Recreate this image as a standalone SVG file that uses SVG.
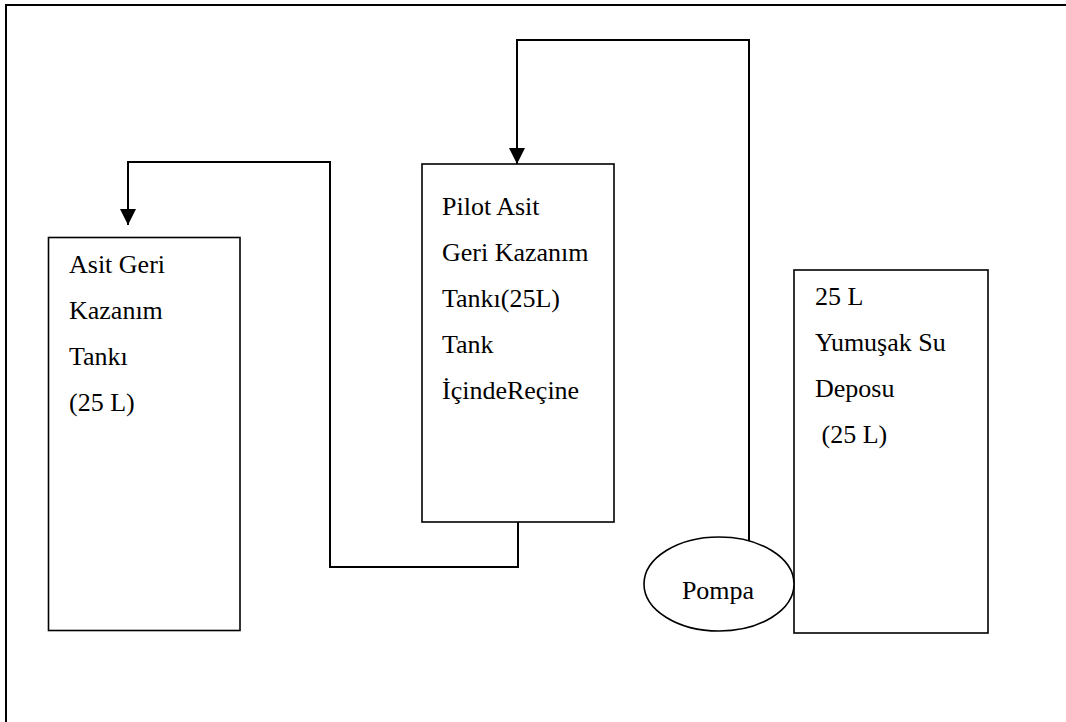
<svg xmlns="http://www.w3.org/2000/svg" width="1066" height="722" viewBox="0 0 1066 722">
  <defs>
    <style>
      .frame { fill: none; stroke: #000; stroke-width: 2; }
      .box { fill: #fff; stroke: #000; stroke-width: 1.6; }
      .pipe { fill: none; stroke: #000; stroke-width: 2; }
      .lbl { font-family: "Liberation Serif", "Times New Roman", serif; font-size: 26px; fill: #000; }
    </style>
    <marker id="arrow" viewBox="0 0 16 16" refX="16" refY="8" markerWidth="16" markerHeight="16" markerUnits="userSpaceOnUse" orient="auto">
      <path d="M0,0 L16,8 L0,16 Z" fill="#000"/>
    </marker>
  </defs>

  <rect width="1066" height="722" fill="#fff"/>

  <!-- outer border (open at right and bottom) -->
  <path class="frame" d="M6,722 L6,5 L1066,5"/>

  <!-- pipework -->
  <g id="connectors">
    <!-- pilot tank outlet to acid recovery tank -->
    <path class="pipe" d="M518,522 L518,567 L330,567 L330,162 L128,162 L128,225" marker-end="url(#arrow)"/>
    <!-- pump discharge to pilot tank -->
    <path class="pipe" d="M749,541 L749,40 L517,40 L517,164" marker-end="url(#arrow)"/>
  </g>

  <g id="asit-geri-kazanim-tanki">
    <rect class="box" x="48.5" y="237.5" width="191.5" height="393"/>
    <text class="lbl" x="69" y="273">Asit Geri</text>
    <text class="lbl" x="69" y="319">Kazanım</text>
    <text class="lbl" x="69" y="365">Tankı</text>
    <text class="lbl" x="69" y="411">(25 L)</text>
  </g>

  <g id="pilot-tank">
    <rect class="box" x="422" y="164" width="192" height="358"/>
    <text class="lbl" x="442" y="215">Pilot Asit</text>
    <text class="lbl" x="442" y="261">Geri Kazanım</text>
    <text class="lbl" x="442" y="307">Tankı(25L)</text>
    <text class="lbl" x="442" y="353">Tank</text>
    <text class="lbl" x="442" y="399">İçindeReçine</text>
  </g>

  <g id="yumusak-su-deposu">
    <rect class="box" x="794" y="270" width="194" height="363"/>
    <text class="lbl" x="815" y="305">25 L</text>
    <text class="lbl" x="815" y="351">Yumuşak Su</text>
    <text class="lbl" x="815" y="397">Deposu</text>
    <text class="lbl" x="815" y="443" xml:space="preserve"> (25 L)</text>
  </g>

  <g id="pompa">
    <ellipse class="box" cx="719" cy="584" rx="75" ry="47"/>
    <text class="lbl" x="718" y="599" text-anchor="middle">Pompa</text>
  </g>
</svg>
